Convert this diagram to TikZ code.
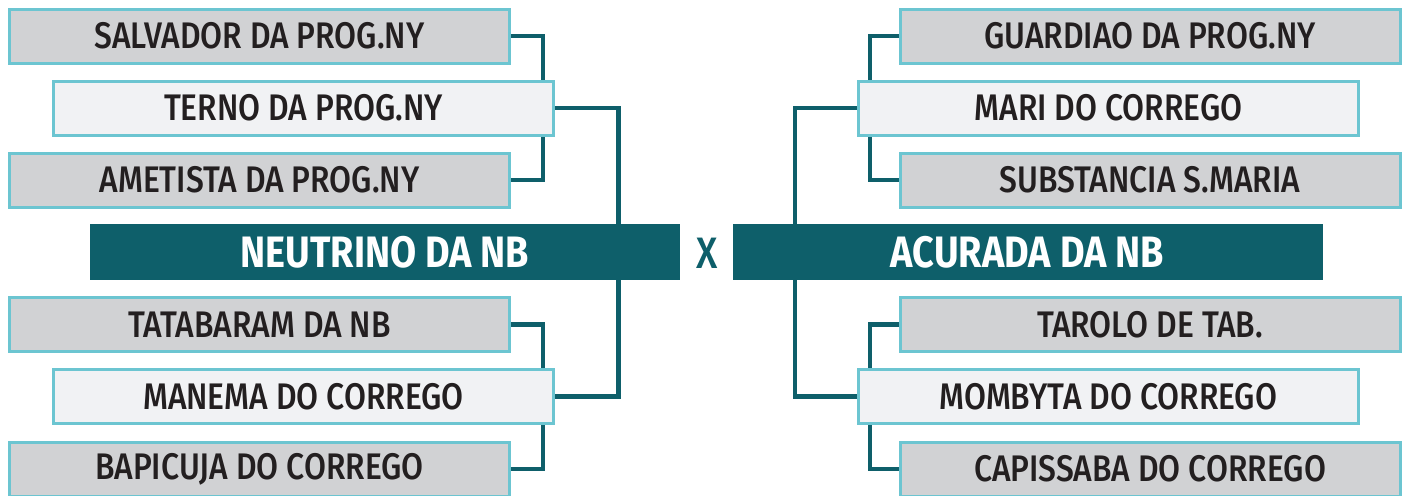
\documentclass[tikz,border=0pt]{standalone}
\usepackage{fontspec}
\setmainfont{Fira Sans}[FakeStretch=0.86,UprightFont=* Medium,BoldFont=* Bold]
\usepackage{xcolor}
\usepackage{tikz}
\usetikzlibrary{positioning,calc}
\definecolor{teamteal}{RGB}{14,95,106}
\definecolor{boxgray}{RGB}{209,210,212}
\definecolor{boxpale}{RGB}{241,242,244}
\definecolor{boxrim}{RGB}{108,197,209}
\definecolor{textdark}{RGB}{35,31,32}
\tikzset{
  entry/.style={draw=boxrim,line width=1.5pt,fill=boxgray,minimum width=250pt,
    minimum height=27pt,inner sep=0pt,text=textdark,font=\fontsize{18.5}{18.5}\selectfont},
  lead/.style={entry,fill=boxpale},
  finalist/.style={fill=teamteal,minimum width=295pt,minimum height=28pt,inner sep=0pt,
    text=white,font=\fontsize{22}{22}\selectfont\bfseries},
  link/.style={teamteal,line width=2.25pt}
}

\begin{document}
\begin{tikzpicture}[x=0.5pt,y=-0.5pt]
  \useasboundingbox (0,0) rectangle (1409,495);
  % ---- LEFT bracket: top trio ----
  \node[entry] (salv) at (259.5,36) {SALVADOR DA PROG.NY};
  \node[entry] (amet) at (259.5,180) {AMETISTA DA PROG.NY};
  \draw[link] (salv.east) -| (543,80);
  \draw[link] (amet.east) -| (543,136);
  \node[lead] (terno) at (303.5,108) {TERNO DA PROG.NY};
  % ---- LEFT bracket: bottom trio ----
  \node[entry] (tata) at (259.5,324.5) {TATABARAM DA NB};
  \node[entry] (bapi) at (259.5,469) {BAPICUJA DO CORREGO};
  \draw[link] (tata.east) -| (543,369);
  \draw[link] (bapi.east) -| (543,424);
  \node[lead] (manema) at (303.5,396.5) {MANEMA DO CORREGO};
  % ---- RIGHT bracket: top trio ----
  \node[entry] (guard) at (1150,36) {GUARDIAO DA PROG.NY};
  \node[entry] (subst) at (1150,180) {SUBSTANCIA S.MARIA};
  \draw[link] (guard.west) -| (870,80);
  \draw[link] (subst.west) -| (870,136);
  \node[lead] (mari) at (1108.5,108) {MARI DO CORREGO};
  % ---- RIGHT bracket: bottom trio ----
  \node[entry] (tarolo) at (1150,324.5) {TAROLO DE TAB.};
  \node[entry] (capi) at (1150,469) {CAPISSABA DO CORREGO};
  \draw[link] (tarolo.west) -| (870,369);
  \draw[link] (capi.west) -| (870,424);
  \node[lead] (momb) at (1108.5,396.5) {MOMBYTA DO CORREGO};
  % ---- final ----
  \node[finalist] (neut) at (385,252) {NEUTRINO DA NB};
  \node[finalist] (acur) at (1027.5,252) {ACURADA DA NB};
  \node[text=teamteal,font=\fontsize{22}{22}\selectfont] (versus) at (707,253) {X};
  \draw[link] (terno.east) -| ([xshift=-31pt]neut.north east);
  \draw[link] (manema.east) -| ([xshift=-31pt]neut.south east);
  \draw[link] (mari.west) -| ([xshift=31.5pt]acur.north west);
  \draw[link] (momb.west) -| ([xshift=31.5pt]acur.south west);
\end{tikzpicture}
\end{document}
